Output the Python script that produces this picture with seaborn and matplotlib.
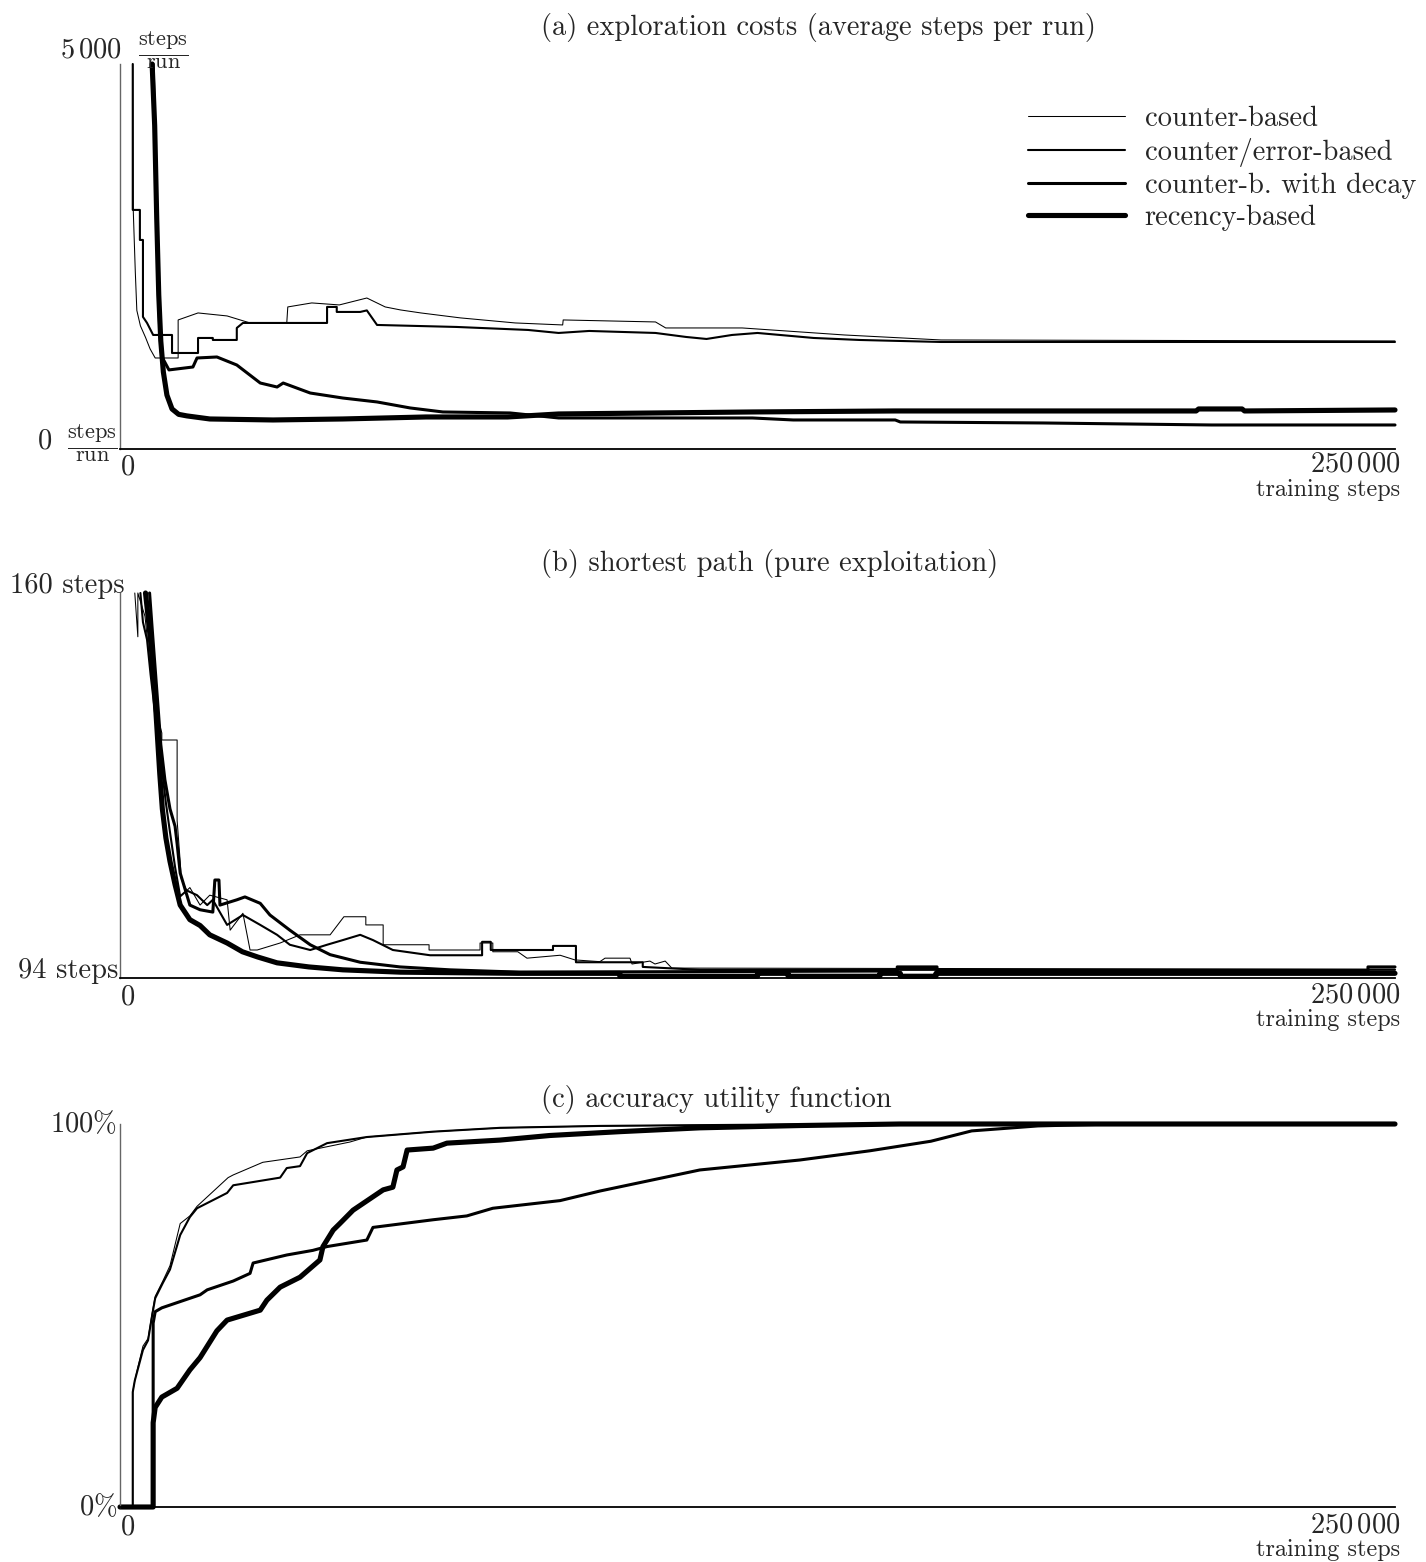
import matplotlib
matplotlib.use("Agg")
import matplotlib.pyplot as plt
import seaborn as sns

# x values are in thousands of training steps

# (a) exploration costs, steps per run
a_cb_x = [2.5, 2.6, 3.0, 3.3, 4.0, 5.0, 5.9, 6.9, 11.4, 11.4, 15.3, 21.0, 25.5, 32.7, 32.9, 37.6, 43.0, 48.4,
          52.0, 55.0, 59.0, 66.7, 77.5, 86.8, 86.9, 105.0, 107.0, 122.0, 142.0, 161.0, 250.0]
a_cb_y = [5000, 3100, 2300, 1800, 1600, 1450, 1300, 1182, 1182, 1676, 1767, 1728, 1637, 1637, 1845, 1897, 1871, 1961,
          1845, 1806, 1767, 1703, 1637, 1611, 1676, 1650, 1572, 1572, 1481, 1416, 1403]

a_ce_x = [2.5, 2.5, 3.9, 3.9, 4.5, 4.5, 5.3, 6.5, 10.2, 10.2, 15.3, 15.3, 18.2, 18.2, 22.9, 22.9, 24.1, 40.6, 40.6,
          42.5, 42.5, 47.1, 48.4, 50.4, 66.0, 80.0, 86.0, 92.0, 105.0, 111.0, 115.0, 120.0, 125.0, 136.0, 145.0,
          161.0, 250.0]
a_ce_y = [5000, 3105, 3105, 2715, 2715, 1716, 1637, 1481, 1481, 1247, 1247, 1442, 1442, 1416, 1416, 1572, 1637, 1637,
          1845, 1845, 1780, 1780, 1800, 1611, 1585, 1546, 1507, 1533, 1507, 1455, 1429, 1481, 1507, 1442, 1416,
          1390, 1390]

a_dec_x = [6.5, 7.0, 7.5, 7.8, 8.2, 9.6, 14.3, 15.1, 19.0, 22.9, 27.5, 30.8, 32.0, 37.3, 43.7, 50.4, 56.9, 63.3,
           76.5, 86.0, 124.0, 132.0, 152.0, 153.0, 181.0, 214.0, 250.0]
a_dec_y = [5000, 3500, 2200, 1500, 1200, 1027, 1065, 1182, 1195, 1091, 857, 805, 857, 727, 662, 611, 533, 481,
           468, 403, 403, 377, 377, 351, 338, 312, 312]

a_rec_x = [6.3, 6.8, 7.2, 7.6, 8.0, 8.5, 9.2, 10.2, 11.5, 13.1, 17.6, 30.0, 43.7, 60.0, 76.0, 86.0, 124.0, 152.0,
           211.0, 211.5, 220.0, 220.5, 250.0]
a_rec_y = [5000, 4200, 3000, 2000, 1400, 1000, 700, 520, 450, 430, 390, 377, 390, 416, 416, 455, 481, 494,
           494, 520, 520, 494, 507]

# (b) shortest path, steps
b_cb_x = [2.9, 3.5, 3.5, 4.9, 5.5, 6.3, 7.3, 8.2, 8.2, 11.2, 11.2, 11.8, 12.0, 13.1, 13.7, 15.7, 17.6, 21.0, 21.6,
          24.1, 25.5, 26.9, 31.4, 35.3, 41.2, 43.9, 48.2, 48.2, 51.6, 51.6, 60.6, 60.6, 70.6, 70.6, 73.1, 73.1,
          78.0, 79.8, 86.3, 89.2, 94.1, 95.1, 100.0, 100.4, 103.9, 104.9, 106.9, 108.2, 250.0]
b_cb_y = [160, 152.5, 160, 156, 151, 145, 139, 136, 134.8, 134.8, 121, 114, 111, 109, 109.5, 106.5, 108.2, 107.4,
          102.2, 105.1, 98.8, 98.8, 100.0, 101.4, 101.4, 104.5, 104.5, 103.1, 103.1, 99.7, 99.7, 98.8, 98.8, 100.0,
          100.0, 98.5, 98.5, 97.4, 97.9, 97.1, 96.8, 97.4, 97.4, 96.4, 96.9, 96.4, 96.9, 95.7, 95.5]

b_ce_x = [4.0, 4.5, 5.3, 6.0, 6.8, 7.5, 8.2, 9.0, 9.8, 10.8, 11.8, 13.1, 15.1, 17.1, 18.2, 21.0, 24.1, 27.5, 30.8,
          33.3, 37.3, 40.6, 43.7, 47.1, 49.6, 53.5, 60.8, 71.0, 71.0, 72.7, 72.7, 84.9, 84.9, 89.4, 89.4, 102.5,
          102.5, 113.7, 250.0]
b_ce_y = [160, 155, 152, 146, 140, 135, 130, 124, 119, 113, 108, 109, 108.2, 106.5, 107.4, 103.1, 104.8, 103.1,
          101.4, 99.7, 98.8, 99.7, 100.5, 101.4, 100.5, 98.8, 97.9, 97.9, 100.2, 100.2, 98.8, 98.8, 99.5, 99.5,
          96.7, 96.7, 95.9, 95.4, 95.4]

b_dec_x = [5.8, 6.3, 6.9, 7.5, 8.0, 8.8, 9.8, 10.8, 11.2, 11.8, 13.7, 15.7, 18.2, 18.6, 19.4, 19.6, 22.9, 24.5,
           27.5, 29.4, 33.3, 37.3, 41.2, 47.1, 54.9, 64.7, 78.4, 152.4, 152.4, 160.2, 160.2, 244.7, 244.7, 250.0]
b_dec_y = [160, 154, 147, 140, 134, 128, 123, 120, 117, 112, 106.5, 105.7, 105.3, 110.8, 110.8, 106.5, 107.4,
           107.9, 106.8, 104.8, 102.2, 99.7, 98.0, 96.7, 95.9, 95.4, 95.0, 95.2, 95.9, 95.9, 95.2, 95.2, 95.9, 95.9]

b_rec_x = [5.0, 5.5, 6.2, 6.8, 7.3, 7.8, 8.3, 9.0, 9.8, 10.8, 11.8, 13.7, 15.7, 17.6, 21.0, 24.0, 27.0, 30.8, 37.0,
           43.7, 55.0, 78.0, 98.0, 98.0, 125.0, 125.0, 131.0, 131.0, 149.0, 149.0, 153.0, 153.0, 160.0, 160.0, 250.0]
b_rec_y = [160, 156, 150, 143, 136, 129, 123, 118, 114, 110, 106.5, 104, 103, 101.4, 100, 98.5, 97.6, 96.6, 95.9,
           95.4, 95.0, 94.8, 94.8, 94.3, 94.3, 94.8, 94.8, 94.3, 94.3, 94.8, 94.8, 94.3, 94.3, 94.8, 94.8]

# (c) accuracy utility function, percent
c_cb_x = [0, 2.5, 2.5, 2.9, 3.5, 4.5, 5.5, 6.3, 6.9, 8.4, 9.8, 11.8, 13.7, 15.1, 21.2, 22.2, 28.0, 35.3, 36.7,
          45.1, 48.4, 61.4, 74.5, 94.1, 133.3, 172.5, 250]
c_cb_y = [0, 0, 30, 33, 36.5, 42, 44, 50.6, 55, 59, 63, 74, 76, 78.5, 86, 86.7, 90, 91.4, 93,
          95.3, 96.6, 98, 99, 99.5, 99.9, 100, 100]

c_ce_x = [0, 2.5, 2.5, 2.9, 3.5, 4.5, 5.5, 6.3, 6.9, 8.4, 9.8, 11.8, 13.7, 15.1, 21.0, 22.2, 31.4, 32.7, 35.3,
          36.7, 40.6, 48.4, 61.4, 74.5, 94.1, 133.3, 172.5, 250]
c_ce_y = [0, 0, 30, 33, 36, 41, 43.5, 50, 54.5, 58.5, 62, 71, 75.7, 78, 82, 84, 86, 88.5, 89,
          92.4, 95, 96.6, 98, 99, 99.5, 99.9, 100, 100]

c_dec_x = [0, 6.5, 6.5, 6.9, 8.2, 15.7, 17.1, 22.2, 25.5, 26.1, 32.7, 37.8, 40.6, 48.4, 49.6, 61.4, 68.0, 73.1,
           86.3, 94.1, 113.7, 133.3, 147.0, 159.0, 167.0, 180.0, 195.0, 250]
c_dec_y = [0, 0, 48, 51, 52, 55.4, 56.7, 59, 61, 63.7, 65.8, 67, 68, 69.7, 73, 75, 76, 78,
           80, 82.5, 88, 90.6, 93, 95.5, 98.2, 99.5, 100, 100]

c_rec_x = [0, 6.5, 6.5, 6.9, 8.2, 11.2, 13.7, 15.7, 19.0, 21.0, 27.5, 28.8, 31.4, 35.3, 39.2, 39.8, 41.8, 43.1,
           45.7, 51.6, 53.5, 54.3, 55.5, 56.3, 61.4, 64.1, 74.5, 84.3, 98.0, 113.7, 133.3, 152.9, 250]
c_rec_y = [0, 0, 22, 26, 28.7, 31, 35.8, 39, 46, 48.8, 51.4, 54, 57.4, 60, 64.5, 68, 72.3, 74,
           77.5, 82.8, 83.5, 88, 88.8, 93.2, 93.7, 95, 95.8, 97, 98, 99, 99.6, 100, 100]

series_names = ["counter-based", "counter/error-based", "counter-b. with decay", "recency-based"]
line_widths = [0.75, 1.5, 2.2, 3.7]

panels = [
    dict(rect_px=(64, 449), ylim=(0, 5000), title="(a) exploration costs (average steps per run)", title_py=27,
         data=[(a_cb_x, a_cb_y), (a_ce_x, a_ce_y), (a_dec_x, a_dec_y), (a_rec_x, a_rec_y)], xlab_py=(467, 464, 490)),
    dict(rect_px=(593, 978), ylim=(94, 160), title="(b) shortest path (pure exploitation)", title_py=563,
         data=[(b_cb_x, b_cb_y), (b_ce_x, b_ce_y), (b_dec_x, b_dec_y), (b_rec_x, b_rec_y)], xlab_py=(997, 995, 1020)),
    dict(rect_px=(1124, 1507), ylim=(0, 100), title="(c) accuracy utility function", title_py=1100,
         data=[(c_cb_x, c_cb_y), (c_ce_x, c_ce_y), (c_dec_x, c_dec_y), (c_rec_x, c_rec_y)], xlab_py=(1527, 1525, 1550)),
]

sns.set_style("white")
plt.rcParams["font.family"] = ["cmr10"]
plt.rcParams["mathtext.fontset"] = "cm"
plt.rcParams["axes.unicode_minus"] = False

W, H = 1426, 1562
FS = 20.5
fig = plt.figure(figsize=(W / 100, H / 100), dpi=100)


def put(px, py, s, **kw):
    fig.text(px / W, 1 - py / H, s, **kw)


X0, X1 = 120, 1395
axes = []
for p in panels:
    top, bot = p["rect_px"]
    ax = fig.add_axes([X0 / W, 1 - bot / H, (X1 - X0) / W, (bot - top) / H])
    for (xs, ys), name, lw in zip(p["data"], series_names, line_widths):
        sns.lineplot(x=xs, y=ys, ax=ax, color="black", linewidth=lw, estimator=None, sort=False,
                     label=name, clip_on=False)
    ax.set_xlim(0, 250)
    ax.set_ylim(*p["ylim"])
    ax.set_xticks([])
    ax.set_yticks([])
    for s in ["top", "right"]:
        ax.spines[s].set_visible(False)
    ax.spines["left"].set_color("#666666")
    ax.spines["left"].set_linewidth(1.0)
    ax.spines["bottom"].set_color("black")
    ax.spines["bottom"].set_linewidth(1.3)
    if ax.get_legend() is not None:
        ax.get_legend().remove()
    put(541, p["title_py"], p["title"], ha="left", va="center", fontsize=FS)
    py0, py250, pytr = p["xlab_py"]
    put(128, py0, "$0$", ha="center", va="center", fontsize=20.5)
    put(1400, py250, r"$250\,000$", ha="right", va="center", fontsize=20.5)
    put(1400, pytr, "training steps", ha="right", va="center", fontsize=17.5)
    axes.append(ax)

# y labels
put(122, 50, r"$5\,000$", ha="right", va="center", fontsize=20.5)
put(163, 50, r"$\frac{\mathrm{steps}}{\mathrm{run}}$", ha="center", va="center", fontsize=23)
put(52, 441, "$0$", ha="right", va="center", fontsize=20.5)
put(92, 443, r"$\frac{\mathrm{steps}}{\mathrm{run}}$", ha="center", va="center", fontsize=23)
put(125, 586, "160 steps", ha="right", va="center", fontsize=FS)
put(118, 971, "94 steps", ha="right", va="center", fontsize=FS)
put(117, 1124, r"$100\%$", ha="right", va="center", fontsize=20.5)
put(117, 1507, r"$0\%$", ha="right", va="center", fontsize=20.5)

handles = axes[0].get_lines()[:4]
axes[0].legend(handles, series_names, loc="upper left", bbox_to_anchor=(1028 / W, 1 - 106 / H),
               bbox_transform=fig.transFigure, frameon=False, handlelength=3.4, handletextpad=0.7,
               labelspacing=0.2, borderpad=0, borderaxespad=0, fontsize=FS)

fig.savefig("out.png", dpi=100, facecolor="white")
